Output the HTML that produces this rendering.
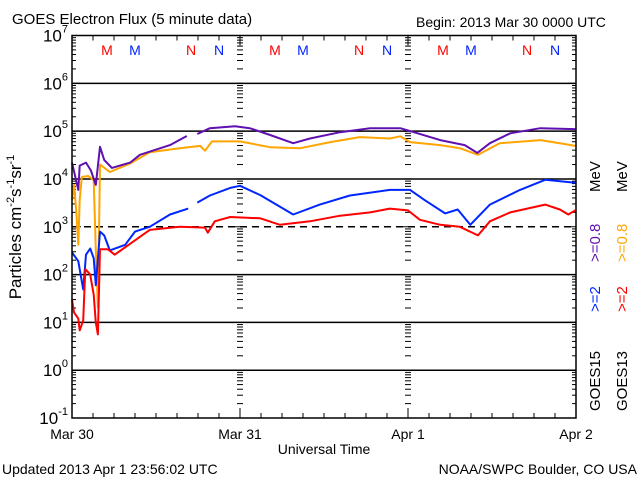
<!DOCTYPE html>
<html><head><meta charset="utf-8"><style>
html,body{margin:0;padding:0;background:#fff;}
svg{display:block;font-family:"Liberation Sans",sans-serif;}
</style></head><body>
<svg id="chart" width="640" height="480" viewBox="0 0 640 480" xmlns="http://www.w3.org/2000/svg">
<rect x="0" y="0" width="640" height="480" fill="#fff"/>
<text x="12" y="24" font-size="15">GOES Electron Flux (5 minute data)</text>
<text x="416" y="27" font-size="14">Begin: 2013 Mar 30 0000 UTC</text>
<text x="2" y="474" font-size="14">Updated 2013 Apr  1 23:56:02 UTC</text>
<text x="637" y="474" font-size="14" text-anchor="end">NOAA/SWPC Boulder, CO USA</text>
<text x="324" y="454" font-size="14" text-anchor="middle">Universal Time</text>
<text transform="translate(21,227) rotate(-90)" font-size="17" text-anchor="middle">Particles cm<tspan font-size="11" dy="-7">-2</tspan><tspan dy="7">s</tspan><tspan font-size="11" dy="-7">-1</tspan><tspan dy="7">sr</tspan><tspan font-size="11" dy="-7">-1</tspan></text>
<g id="plot"></g>
<g font-size="15">
<text transform="translate(600,411) rotate(-90)" fill="#000">GOES15</text>
<text transform="translate(600,312) rotate(-90)" fill="#0026ff">&gt;=2</text>
<text transform="translate(600,262) rotate(-90)" fill="#6010b0">&gt;=0.8</text>
<text transform="translate(600,192) rotate(-90)" fill="#000">MeV</text>
</g>
<g font-size="15">
<text transform="translate(627,411) rotate(-90)" fill="#000">GOES13</text>
<text transform="translate(627,312) rotate(-90)" fill="#ff0000">&gt;=2</text>
<text transform="translate(627,262) rotate(-90)" fill="#ffa500">&gt;=0.8</text>
<text transform="translate(627,192) rotate(-90)" fill="#000">MeV</text>
</g>
</svg>
<script>
const dayLabels = ["Mar 30","Mar 31","Apr 1","Apr 2"];
const decades = [-1,0,1,2,3,4,5,6,7];
const p15hi_h = [0,0.9,1.1,2.0,2.7,3.4,4.0,4.6,5.7,8.3,9.7,14,16.4,17.2,17.9,19.7,23.3,25.4,28.3,31.6,34,38.3,42.6,46.9,48.3,52.6,56.1,57.9,59.7,62.6,66.9,71.9];
const p15hi_v = [2.2e4,5.9e3,1.9e4,2.2e4,1.5e4,7.5e3,4.7e4,2.5e4,1.7e4,2.2e4,3.2e4,5.1e4,7.9e4,null,8.7e4,1.15e5,1.26e5,1.15e5,8.3e4,5.6e4,7e4,9.5e4,1.15e5,1.15e5,1e5,6.5e4,5.1e4,3.5e4,5.6e4,9e4,1.15e5,1.1e5];
const o13hi_h = [0,0.3,0.6,0.9,1.1,1.4,2.3,3.1,3.4,3.7,4,5.4,8.3,11.1,15.4,18.3,19,20,24,28.3,32.6,36.9,41.1,45.4,46.9,48.3,52.6,55.4,58,61.1,66.9,69.7,71.9];
const o13hi_v = [3.6e3,7.5e3,2.2e3,4.2e2,3.6e3,1.1e4,1.15e4,9.5e3,3.3e2,20,2e4,1.4e4,2.1e4,3.6e4,4.4e4,4.9e4,3.9e4,6.1e4,6.1e4,4.6e4,4.4e4,5.9e4,7.5e4,7e4,7.8e4,5.9e4,5.1e4,4.4e4,3.2e4,5.6e4,6.5e4,5.6e4,4.9e4];
const b15lo_h = [0,0.9,1.6,2,2.6,3.1,3.4,4,4.6,5.4,7.6,9,11.1,14,16.6,17.2,17.9,19.7,22.6,24,26.9,31.6,35.4,39.7,45.4,48.3,50.4,53.3,55.1,56.9,59.7,64,67.6,71.9];
const b15lo_v = [2.9e2,1.9e2,49,2.6e2,3.5e2,2.2e2,60,7.9e2,6.6e2,3.2e2,4.2e2,7.9e2,1e3,1.8e3,2.4e3,null,3.2e3,4.5e3,6.5e3,7.2e3,4.6e3,1.8e3,2.9e3,4.5e3,5.9e3,5.9e3,3.6e3,1.9e3,2.3e3,1.1e3,2.9e3,5.9e3,9.6e3,8.3e3];
const r13lo_h = [0,0.3,0.9,1.1,1.6,1.9,2.6,3.1,3.4,3.7,4,5.1,6.1,8.3,11.1,15.4,19,19.4,20.4,22.6,26.9,29.7,34,38.3,42.6,45.4,48,49.7,52.6,55.4,58,59.7,62.6,67.6,69.7,70.9,71.9];
const r13lo_v = [30,16,12,6.8,11,130,100,38,10,5.6,340,340,260,440,860,1000,960,750,1300,1600,1500,1100,1300,1700,2000,2400,2200,1400,1100,1000,660,1300,2000,2900,2300,1800,2200];
const markerLabels = ["M","M","N","N"];
const markerHours = [5,9,17,21];

const X0=72,X1=576,Y0=35.5,Y1=418,H=72;
const xs = h => X0 + h*(X1-X0)/H;
const ys = v => Y1 - (Math.log10(v)+1)*(Y1-Y0)/8;
const NS="http://www.w3.org/2000/svg";
const g=document.getElementById('plot');
function mk(t,a,p){const e=document.createElementNS(NS,t);for(const k in a)e.setAttribute(k,a[k]);(p||g).appendChild(e);return e;}

// horizontal decade lines
decades.forEach(d=>{
  if(d<0||d>6)return;
  const y=ys(Math.pow(10,d));
  const l=mk('line',{x1:X0,x2:X1,y1:y,y2:y,stroke:'#000','stroke-width':1.5});
  if(d===3){l.setAttribute('stroke-dasharray','7,5');}
  
  
});
// y ticks and labels
decades.forEach(d=>{
  const y=ys(Math.pow(10,d));
  const t=mk('text',{x:X0-4,y:y+6,'font-size':17,'text-anchor':'end'});
  t.textContent='10';
  const s=mk('tspan',{'font-size':11,dy:-9},t);s.textContent=String(d);
  
  
  mk('line',{x1:X0,x2:X0+9,y1:y,y2:y,stroke:'#000'});
  mk('line',{x1:X1-9,x2:X1,y1:y,y2:y,stroke:'#000'});
  if(d<7){
    for(let k=2;k<10;k++){
      const yy=ys(k*Math.pow(10,d));
      mk('line',{x1:X0,x2:X0+4,y1:yy,y2:yy,stroke:'#000'});
      mk('line',{x1:X1-4,x2:X1,y1:yy,y2:yy,stroke:'#000'});
      [24,48].forEach(h=>mk('line',{x1:xs(h)-3,x2:xs(h)+3,y1:yy,y2:yy,stroke:'#000'}));
    }
    [24,48].forEach(h=>mk('line',{x1:xs(h)-5,x2:xs(h)+5,y1:y,y2:y,stroke:'#000'}));
  }
});
// x ticks
for(let h=0;h<=H;h+=3){
  const len=(h%24===0)?10:5;
  mk('line',{x1:xs(h),x2:xs(h),y1:Y1,y2:Y1-len,stroke:'#000'});
  mk('line',{x1:xs(h),x2:xs(h),y1:Y0,y2:Y0+len,stroke:'#000'});
}
dayLabels.forEach((d,i)=>{
  const t=mk('text',{x:xs(i*24),y:439,'font-size':14,'text-anchor':'middle'});
  t.textContent=d;
  
  
});
// markers
for(let day=0;day<3;day++){
  markerHours.forEach((h,i)=>{
    const t=mk('text',{x:xs(day*24+h),y:55,'font-size':14,'text-anchor':'middle',fill:(i%2===0)?'#ff0000':'#0026ff'});
    t.textContent=markerLabels[i];
    
    
  });
}
// series
function series(hh,vv,color,name){
  let d='',pen=false;
  for(let i=0;i<hh.length;i++){
    if(vv[i]==null){pen=false;continue;}
    d+=(pen?'L':'M')+xs(hh[i]).toFixed(1)+','+ys(vv[i]).toFixed(1);
    pen=true;
  }
  const p=mk('path',{d:d,fill:'none',stroke:color,'stroke-width':2,'stroke-linejoin':'round'});
  
  
}
series(o13hi_h,o13hi_v,'#ffa500','goes13-0.8mev-line');
series(p15hi_h,p15hi_v,'#6010b0','goes15-0.8mev-line');
series(b15lo_h,b15lo_v,'#0026ff','goes15-2mev-line');
series(r13lo_h,r13lo_v,'#ff0000','goes13-2mev-line');
// frame
const f=mk('rect',{x:X0,y:Y0,width:X1-X0,height:Y1-Y0,fill:'none',stroke:'#000','stroke-width':1.5});


</script>
</body></html>
